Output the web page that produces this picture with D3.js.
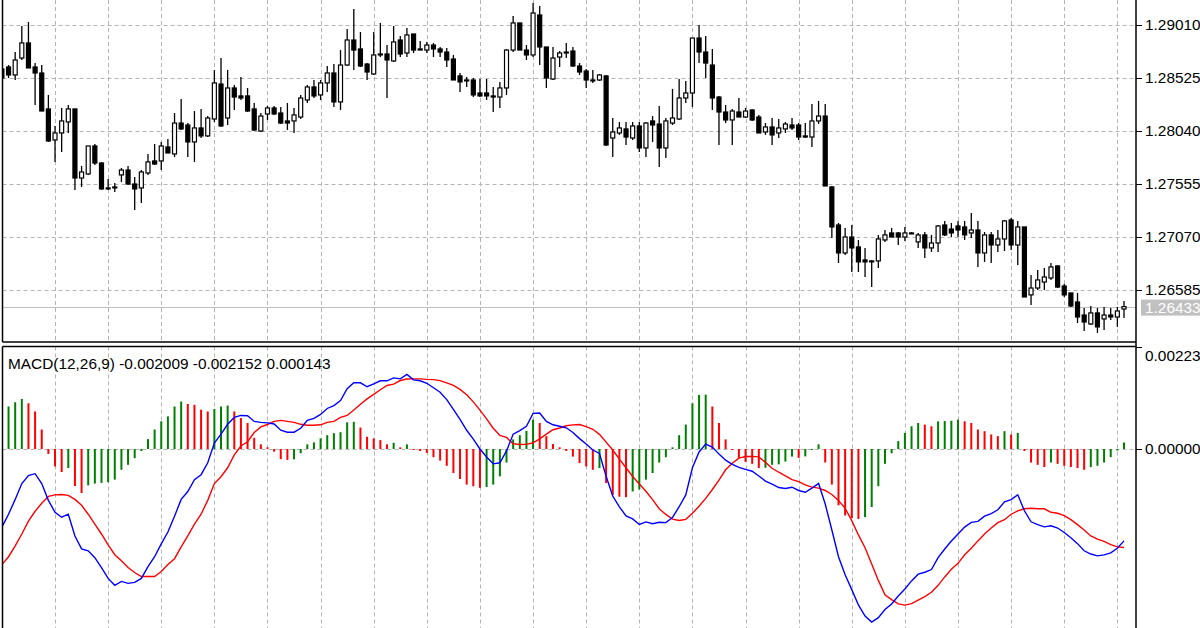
<!DOCTYPE html>
<html><head><meta charset="utf-8">
<script src="https://cdn.jsdelivr.net/npm/d3@7"></script>
<style>html,body{margin:0;padding:0;background:#fff;}svg{display:block;}</style>
</head><body>
<svg id="chart" width="1200" height="628"></svg>
<script>
const openP = [1.28608,1.28626,1.28553,1.28708,1.28846,1.28626,1.28571,1.28242,1.27958,1.28022,1.28123,1.28242,1.27610,1.27647,1.27903,1.27747,1.27519,1.27528,1.27638,1.27683,1.27555,1.27519,1.27656,1.27766,1.27766,1.27894,1.27830,1.28113,1.28095,1.27940,1.28068,1.27995,1.28150,1.28470,1.28159,1.28434,1.28361,1.28361,1.28242,1.28040,1.28196,1.28251,1.28205,1.28132,1.28132,1.28168,1.28324,1.28443,1.28370,1.28480,1.28571,1.28306,1.28644,1.28873,1.28791,1.28653,1.28562,1.28736,1.28745,1.28681,1.28873,1.28754,1.28928,1.28791,1.28781,1.28827,1.28791,1.28763,1.28699,1.28544,1.28507,1.28507,1.28388,1.28388,1.28361,1.28351,1.28434,1.28781,1.29029,1.28781,1.28736,1.29102,1.28809,1.28516,1.28717,1.28763,1.28772,1.28635,1.28589,1.28507,1.28507,1.28544,1.27976,1.28022,1.28059,1.27976,1.28086,1.27885,1.28132,1.28104,1.27885,1.28113,1.28150,1.28342,1.28388,1.28891,1.28763,1.28644,1.28351,1.28214,1.28141,1.28214,1.28168,1.28232,1.28168,1.28031,1.28077,1.28022,1.28059,1.28095,1.28095,1.27995,1.27985,1.28132,1.28177,1.27528,1.27180,1.26924,1.27070,1.26979,1.26860,1.26851,1.26851,1.27043,1.27107,1.27107,1.27070,1.27107,1.27025,1.27089,1.26970,1.27015,1.27180,1.27143,1.27171,1.27162,1.27107,1.27134,1.26924,1.27089,1.26997,1.27052,1.27226,1.26997,1.27162,1.26540,1.26603,1.26658,1.26695,1.26805,1.26621,1.26558,1.26475,1.26356,1.26274,1.26375,1.26320,1.26356,1.26338,1.26411];
const highP = [1.28626,1.28644,1.28763,1.29001,1.29038,1.28662,1.28644,1.28370,1.28086,1.28251,1.28278,1.28242,1.27720,1.27903,1.27921,1.27757,1.27601,1.27564,1.27702,1.27720,1.27619,1.27683,1.27830,1.27921,1.27940,1.27967,1.28205,1.28333,1.28113,1.28223,1.28242,1.28177,1.28598,1.28708,1.28598,1.28461,1.28534,1.28434,1.28296,1.28205,1.28269,1.28269,1.28260,1.28296,1.28251,1.28370,1.28461,1.28507,1.28507,1.28635,1.28653,1.28781,1.28974,1.29157,1.28946,1.28662,1.28946,1.29029,1.28827,1.29001,1.28910,1.28983,1.28928,1.28864,1.28855,1.28846,1.28809,1.28800,1.28736,1.28571,1.28534,1.28525,1.28516,1.28516,1.28443,1.28489,1.28791,1.29093,1.29029,1.28827,1.29212,1.29184,1.28809,1.28809,1.28772,1.28846,1.28809,1.28662,1.28608,1.28598,1.28562,1.28553,1.28159,1.28123,1.28123,1.28123,1.28123,1.28123,1.28177,1.28269,1.28159,1.28425,1.28516,1.28498,1.28891,1.29010,1.28910,1.28791,1.28361,1.28278,1.28242,1.28342,1.28251,1.28242,1.28187,1.28113,1.28159,1.28150,1.28123,1.28159,1.28113,1.28113,1.28287,1.28315,1.28287,1.27537,1.27198,1.27153,1.27180,1.27043,1.26970,1.26860,1.27089,1.27134,1.27153,1.27116,1.27162,1.27116,1.27107,1.27116,1.27089,1.27180,1.27217,1.27198,1.27217,1.27217,1.27290,1.27217,1.27116,1.27116,1.27134,1.27226,1.27244,1.27217,1.27162,1.26723,1.26768,1.26787,1.26832,1.26814,1.26640,1.26558,1.26558,1.26421,1.26439,1.26421,1.26430,1.26421,1.26430,1.26484];
const lowP = [1.28507,1.28525,1.28507,1.28690,1.28617,1.28278,1.28223,1.27940,1.27757,1.27848,1.28022,1.27500,1.27528,1.27638,1.27729,1.27500,1.27500,1.27482,1.27574,1.27546,1.27317,1.27381,1.27638,1.27729,1.27683,1.27839,1.27802,1.28049,1.27802,1.27757,1.27976,1.27985,1.28123,1.28077,1.28095,1.28232,1.28324,1.28214,1.28040,1.28031,1.28141,1.28187,1.28104,1.28049,1.28022,1.28150,1.28296,1.28342,1.28324,1.28397,1.28260,1.28232,1.28635,1.28598,1.28626,1.28507,1.28553,1.28717,1.28342,1.28672,1.28717,1.28717,1.28754,1.28781,1.28754,1.28717,1.28717,1.28626,1.28507,1.28397,1.28443,1.28351,1.28351,1.28324,1.28214,1.28251,1.28370,1.28763,1.28781,1.28690,1.28717,1.28644,1.28434,1.28507,1.28626,1.28708,1.28626,1.28553,1.28434,1.28480,1.28498,1.27903,1.27802,1.28004,1.27912,1.27958,1.27848,1.27802,1.27940,1.27711,1.27793,1.28095,1.28141,1.28296,1.28260,1.28662,1.28525,1.28232,1.27912,1.28113,1.27912,1.28168,1.28159,1.28132,1.28022,1.28004,1.27912,1.27976,1.28022,1.28049,1.27958,1.27976,1.27894,1.28104,1.27537,1.27061,1.26832,1.26906,1.26750,1.26750,1.26704,1.26612,1.26787,1.27025,1.27070,1.26997,1.27034,1.27098,1.26970,1.26878,1.26933,1.26933,1.27080,1.27070,1.27070,1.27043,1.27061,1.26796,1.26842,1.26832,1.26933,1.26942,1.26951,1.26814,1.26521,1.26448,1.26585,1.26585,1.26677,1.26603,1.26521,1.26430,1.26283,1.26210,1.26265,1.26192,1.26219,1.26311,1.26247,1.26329];
const closeP = [1.28525,1.28553,1.28690,1.28846,1.28617,1.28571,1.28223,1.27949,1.28022,1.28132,1.28242,1.27610,1.27665,1.27903,1.27747,1.27510,1.27510,1.27519,1.27683,1.27555,1.27510,1.27665,1.27757,1.27738,1.27903,1.27839,1.28113,1.28059,1.27940,1.28068,1.27995,1.28159,1.28480,1.28086,1.28434,1.28351,1.28342,1.28223,1.28049,1.28177,1.28251,1.28196,1.28113,1.28113,1.28187,1.28342,1.28443,1.28361,1.28480,1.28571,1.28306,1.28644,1.28873,1.28781,1.28635,1.28580,1.28736,1.28745,1.28690,1.28855,1.28745,1.28919,1.28781,1.28781,1.28827,1.28791,1.28763,1.28690,1.28507,1.28489,1.28498,1.28370,1.28361,1.28361,1.28351,1.28434,1.28781,1.29029,1.28781,1.28736,1.29120,1.28809,1.28525,1.28708,1.28754,1.28754,1.28635,1.28580,1.28507,1.28498,1.28553,1.27912,1.28031,1.28068,1.27985,1.28086,1.27885,1.28113,1.28095,1.27885,1.28132,1.28159,1.28342,1.28388,1.28891,1.28763,1.28662,1.28342,1.28214,1.28141,1.28223,1.28168,1.28223,1.28141,1.28022,1.28077,1.28004,1.28068,1.28104,1.28068,1.27985,1.27985,1.28132,1.28177,1.27537,1.27162,1.26924,1.27070,1.26970,1.26842,1.26842,1.26842,1.27052,1.27089,1.27070,1.27070,1.27107,1.27098,1.27089,1.26970,1.27015,1.27171,1.27089,1.27107,1.27134,1.27089,1.27134,1.26924,1.27089,1.26997,1.27052,1.27217,1.26997,1.27162,1.26521,1.26603,1.26677,1.26704,1.26796,1.26612,1.26540,1.26439,1.26338,1.26292,1.26375,1.26247,1.26356,1.26338,1.26393,1.26433];
const macdMain = [-0.001707,-0.001426,-0.001102,-0.000756,-0.000583,-0.000540,-0.000756,-0.001123,-0.001383,-0.001491,-0.001426,-0.001901,-0.002182,-0.002225,-0.002376,-0.002592,-0.002830,-0.002981,-0.002895,-0.002938,-0.002916,-0.002830,-0.002571,-0.002355,-0.002074,-0.001815,-0.001469,-0.001102,-0.000929,-0.000670,-0.000562,-0.000302,0.000130,0.000324,0.000540,0.000691,0.000734,0.000726,0.000603,0.000583,0.000572,0.000547,0.000410,0.000367,0.000367,0.000454,0.000626,0.000670,0.000756,0.000886,0.000950,0.001058,0.001318,0.001447,0.001447,0.001361,0.001426,0.001491,0.001491,0.001555,0.001534,0.001631,0.001512,0.001491,0.001437,0.001339,0.001242,0.001080,0.000864,0.000648,0.000410,0.000216,0.000000,-0.000173,-0.000324,-0.000302,-0.000043,0.000324,0.000400,0.000497,0.000778,0.000788,0.000605,0.000529,0.000497,0.000464,0.000361,0.000227,0.000108,-0.000022,-0.000097,-0.000594,-0.001028,-0.001264,-0.001465,-0.001529,-0.001650,-0.001594,-0.001633,-0.001601,-0.001609,-0.001497,-0.001262,-0.001005,-0.000410,-0.000065,0.000108,0.000043,-0.000112,-0.000244,-0.000335,-0.000400,-0.000445,-0.000486,-0.000590,-0.000702,-0.000767,-0.000842,-0.000862,-0.000836,-0.000907,-0.000946,-0.000855,-0.000754,-0.001203,-0.001771,-0.002355,-0.002750,-0.003074,-0.003409,-0.003651,-0.003783,-0.003688,-0.003510,-0.003387,-0.003214,-0.003061,-0.002884,-0.002737,-0.002694,-0.002635,-0.002376,-0.002186,-0.002013,-0.001858,-0.001707,-0.001603,-0.001583,-0.001469,-0.001411,-0.001329,-0.001156,-0.001108,-0.001000,-0.001350,-0.001592,-0.001653,-0.001702,-0.001678,-0.001728,-0.001825,-0.001940,-0.002069,-0.002225,-0.002296,-0.002337,-0.002316,-0.002270,-0.002171,-0.002009];
const macdSignal = [-0.002527,-0.002355,-0.002117,-0.001858,-0.001577,-0.001361,-0.001188,-0.001037,-0.001004,-0.000994,-0.001015,-0.001102,-0.001231,-0.001426,-0.001642,-0.001858,-0.002095,-0.002311,-0.002441,-0.002592,-0.002700,-0.002787,-0.002787,-0.002787,-0.002679,-0.002527,-0.002398,-0.002139,-0.001901,-0.001642,-0.001426,-0.001123,-0.000756,-0.000605,-0.000410,-0.000130,0.000065,0.000158,0.000359,0.000482,0.000536,0.000605,0.000626,0.000605,0.000583,0.000540,0.000518,0.000518,0.000529,0.000583,0.000605,0.000691,0.000734,0.000853,0.000979,0.001095,0.001195,0.001296,0.001389,0.001419,0.001497,0.001529,0.001534,0.001534,0.001523,0.001516,0.001495,0.001447,0.001389,0.001303,0.001188,0.001030,0.000849,0.000659,0.000454,0.000296,0.000253,0.000114,0.000097,0.000102,0.000136,0.000220,0.000324,0.000421,0.000460,0.000508,0.000527,0.000536,0.000490,0.000432,0.000320,0.000151,-0.000022,-0.000220,-0.000410,-0.000601,-0.000765,-0.000925,-0.001108,-0.001305,-0.001430,-0.001534,-0.001564,-0.001538,-0.001404,-0.001253,-0.001080,-0.000886,-0.000680,-0.000454,-0.000313,-0.000199,-0.000164,-0.000162,-0.000173,-0.000292,-0.000421,-0.000508,-0.000588,-0.000670,-0.000713,-0.000784,-0.000834,-0.000855,-0.000907,-0.000994,-0.001123,-0.001296,-0.001566,-0.001879,-0.002160,-0.002514,-0.002873,-0.003186,-0.003294,-0.003387,-0.003413,-0.003381,-0.003305,-0.003227,-0.003132,-0.002981,-0.002797,-0.002631,-0.002499,-0.002311,-0.002171,-0.002009,-0.001858,-0.001728,-0.001609,-0.001545,-0.001426,-0.001352,-0.001307,-0.001296,-0.001307,-0.001307,-0.001383,-0.001404,-0.001458,-0.001545,-0.001653,-0.001771,-0.001901,-0.001970,-0.002020,-0.002091,-0.002139,-0.002152];
const macdHist = [0.000821,0.000929,0.001022,0.001095,0.001000,0.000821,0.000426,-0.000108,-0.000382,-0.000503,-0.000417,-0.000810,-0.000961,-0.000795,-0.000756,-0.000741,-0.000726,-0.000670,-0.000454,-0.000346,-0.000201,-0.000043,0.000216,0.000426,0.000605,0.000713,0.000929,0.001037,0.000987,0.000966,0.000858,0.000821,0.000875,0.000929,0.000950,0.000821,0.000676,0.000568,0.000244,0.000102,0.000037,-0.000058,-0.000222,-0.000238,-0.000227,-0.000093,0.000102,0.000145,0.000231,0.000302,0.000346,0.000367,0.000583,0.000594,0.000469,0.000266,0.000231,0.000194,0.000102,0.000136,0.000037,0.000102,-0.000022,-0.000043,-0.000086,-0.000179,-0.000253,-0.000367,-0.000525,-0.000654,-0.000778,-0.000814,-0.000849,-0.000832,-0.000778,-0.000598,-0.000296,0.000210,0.000302,0.000395,0.000642,0.000568,0.000281,0.000108,0.000037,-0.000043,-0.000166,-0.000309,-0.000382,-0.000454,-0.000417,-0.000745,-0.001007,-0.001043,-0.001054,-0.000929,-0.000886,-0.000670,-0.000525,-0.000296,-0.000179,0.000037,0.000302,0.000534,0.001000,0.001182,0.001188,0.000929,0.000568,0.000210,-0.000022,-0.000201,-0.000281,-0.000324,-0.000417,-0.000410,-0.000346,-0.000335,-0.000274,-0.000166,-0.000194,-0.000162,-0.000022,0.000102,-0.000296,-0.000778,-0.001231,-0.001454,-0.001508,-0.001529,-0.001490,-0.001268,-0.000814,-0.000324,-0.000093,0.000173,0.000352,0.000497,0.000568,0.000534,0.000497,0.000605,0.000611,0.000618,0.000642,0.000605,0.000568,0.000426,0.000389,0.000318,0.000281,0.000389,0.000318,0.000352,-0.000043,-0.000296,-0.000346,-0.000395,-0.000296,-0.000324,-0.000367,-0.000395,-0.000417,-0.000454,-0.000395,-0.000367,-0.000296,-0.000179,-0.000032,0.000143];
const priceTicks = [1.29010, 1.28525, 1.28040, 1.27555, 1.27070, 1.26585];
const macdTicks = [0.00223, 0.00000];
const lastPrice = 1.26433;
const macdParams = "12,26,9";
const barsPerGrid = 8;

const FONT = "'Liberation Sans', Arial, sans-serif";
const FS = 15.4;
const n = closeP.length;
const axisX = 1136, leftX = 2.5;
const pBot = 342, mTop = 346.5, mBot = 640;

const svg = d3.select('#chart');
svg.append('rect').attr('width',1200).attr('height',628).attr('fill','#fff');

const x = d3.scaleLinear().domain([0, n-1]).range([1.9, 1124]);
const yP = d3.scaleLinear().domain([1.26109, 1.29239]).range([pBot, 0]);
const yM = d3.scaleLinear().domain([0, 0.00223]).range([449, 347]);

const defs = svg.append('defs');
defs.append('clipPath').attr('id','cp').append('rect').attr('x',leftX).attr('y',0).attr('width',axisX-leftX).attr('height',pBot);
defs.append('clipPath').attr('id','cm').append('rect').attr('x',leftX).attr('y',mTop).attr('width',axisX-leftX).attr('height',mBot-mTop);

const gridColor = '#b4b4b4', dash = '4,3';
const gridIdx = d3.range(barsPerGrid, n, barsPerGrid);

// ---- price panel
const gP = svg.append('g').attr('clip-path','url(#cp)');
gP.selectAll('line.vg').data(gridIdx).join('line')
  .attr('x1',d=>Math.round(x(d))+0.5).attr('x2',d=>Math.round(x(d))+0.5)
  .attr('y1',0).attr('y2',pBot).attr('stroke',gridColor).attr('stroke-dasharray',dash);
gP.selectAll('line.hg').data(priceTicks).join('line')
  .attr('x1',leftX).attr('x2',axisX).attr('y1',d=>Math.round(yP(d))+0.5).attr('y2',d=>Math.round(yP(d))+0.5)
  .attr('stroke',gridColor).attr('stroke-dasharray',dash);
gP.append('line').attr('x1',leftX).attr('x2',axisX)
  .attr('y1',Math.round(yP(lastPrice))+0.5).attr('y2',Math.round(yP(lastPrice))+0.5)
  .attr('stroke','#c0c0c0').attr('stroke-width',1);

const bars = d3.range(n).map(i=>({i,o:openP[i],h:highP[i],l:lowP[i],c:closeP[i]}));
gP.selectAll('line.wick').data(bars).join('line')
  .attr('x1',d=>x(d.i)).attr('x2',d=>x(d.i))
  .attr('y1',d=>yP(d.h)).attr('y2',d=>yP(d.l))
  .attr('stroke','#000').attr('stroke-width',1.3);
gP.selectAll('rect.body').data(bars).join('rect')
  .attr('x',d=>x(d.i)-2).attr('width',4)
  .attr('y',d=>yP(Math.max(d.o,d.c)))
  .attr('height',d=>Math.max(0.3,Math.abs(yP(d.o)-yP(d.c))))
  .attr('fill',d=>d.c>d.o?'#fff':'#000')
  .attr('stroke','#000').attr('stroke-width',1.2);

// ---- MACD panel
const gM = svg.append('g').attr('clip-path','url(#cm)');
gM.selectAll('line.vg').data(gridIdx).join('line')
  .attr('x1',d=>Math.round(x(d))+0.5).attr('x2',d=>Math.round(x(d))+0.5)
  .attr('y1',mTop).attr('y2',mBot).attr('stroke',gridColor).attr('stroke-dasharray',dash);
gM.append('line').attr('x1',leftX).attr('x2',axisX)
  .attr('y1',Math.round(yM(0))+0.5).attr('y2',Math.round(yM(0))+0.5)
  .attr('stroke',gridColor).attr('stroke-dasharray',dash);
gM.selectAll('rect.hist').data(macdHist).join('rect')
  .attr('x',(d,i)=>x(i)-1).attr('width',2)
  .attr('y',d=>Math.min(yM(d),yM(0))).attr('height',d=>Math.abs(yM(d)-yM(0)))
  .attr('fill',(d,i)=> (i===0 || d>macdHist[i-1]) ? '#008000' : '#ff0000');
const lineGen = arr => d3.line().x((d,i)=>x(i)).y(d=>yM(d))(arr);
gM.append('path').attr('d',lineGen(macdSignal)).attr('fill','none').attr('stroke','#ff0000').attr('stroke-width',1.4);
gM.append('path').attr('d',lineGen(macdMain)).attr('fill','none').attr('stroke','#0000ff').attr('stroke-width',1.4);

// ---- frames
const frame = svg.append('g').attr('stroke','#000').attr('fill','none');
frame.append('line').attr('x1',leftX).attr('x2',leftX).attr('y1',0).attr('y2',pBot).attr('stroke-width',1.5);
frame.append('line').attr('x1',leftX).attr('x2',axisX).attr('y1',pBot).attr('y2',pBot).attr('stroke-width',1.5);
frame.append('line').attr('x1',leftX).attr('x2',axisX).attr('y1',mTop).attr('y2',mTop).attr('stroke-width',1.5);
frame.append('line').attr('x1',leftX).attr('x2',leftX).attr('y1',mTop).attr('y2',628).attr('stroke-width',1.5);

// ---- axes
const axP = d3.axisRight(yP).tickValues(priceTicks).tickFormat(d3.format('.5f')).tickSizeInner(6).tickSizeOuter(0).tickPadding(3);
const gAxP = svg.append('g').attr('transform',`translate(${axisX},0)`).call(axP);
const axM = d3.axisRight(yM).tickValues(macdTicks).tickFormat(d3.format('.5f')).tickSizeInner(6).tickSizeOuter(0).tickPadding(3);
const gAxM = svg.append('g').attr('transform',`translate(${axisX},0)`).call(axM);
gAxM.select('.domain').remove();
[gAxP,gAxM].forEach(g=>{
  g.selectAll('.tick text').attr('font-family',FONT).attr('font-size',FS).attr('fill','#000');
  g.selectAll('.tick line').attr('stroke','#000');
});
gAxP.select('.domain').remove();
gAxM.selectAll('.tick').filter(d=>d===macdTicks[0]).select('text').attr('dy','0.88em');
svg.append('line').attr('x1',axisX).attr('x2',axisX).attr('y1',0).attr('y2',628).attr('stroke','#000').attr('stroke-width',1.5);

// current price label
const yl = yP(lastPrice);
svg.append('rect').attr('x',1141).attr('y',yl-7).attr('width',60).attr('height',16).attr('fill','#c0c0c0');
svg.append('text').attr('x',1145).attr('y',yl+1).attr('dy','0.35em')
  .attr('font-family',FONT).attr('font-size',FS).attr('fill','#fff').text(d3.format('.5f')(lastPrice));

// header
svg.append('text').attr('x',8).attr('y',369).attr('font-family',FONT).attr('font-size',FS).attr('fill','#000')
  .text(`MACD(${macdParams}) ${macdMain[n-1].toFixed(6)} ${macdSignal[n-1].toFixed(6)} ${macdHist[n-1].toFixed(6)}`);
</script>
</body></html>
